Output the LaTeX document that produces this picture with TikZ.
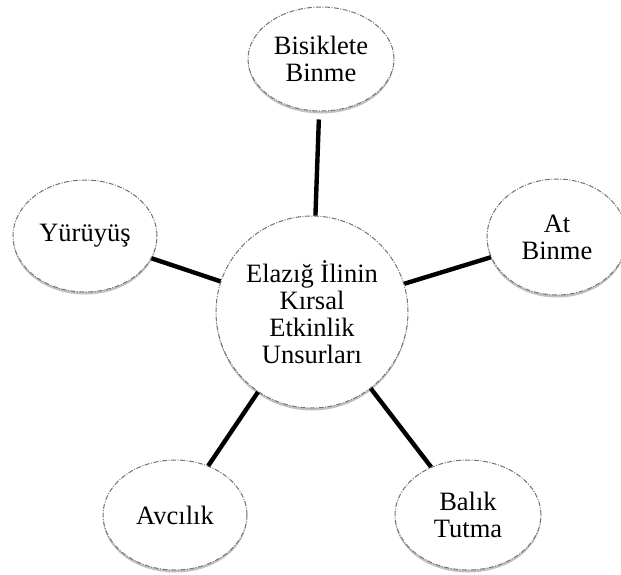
\documentclass[tikz,border=0pt]{standalone}
\usepackage{fontspec}
\setmainfont{Liberation Serif}
\usetikzlibrary{shapes.geometric,shadows}
\begin{document}
\begin{tikzpicture}[x=1pt,y=-1pt,
  bubble/.style={draw=black!55, line width=1pt,
    dash pattern=on 5pt off 1.5pt on 1pt off 1.5pt,
    fill=white, align=center, inner sep=0pt,
    font=\fontsize{26.5}{27}\selectfont,
    drop shadow={shadow xshift=0pt, shadow yshift=-2.5pt, opacity=.4, fill=black!60}},
  leaf/.style={bubble, ellipse, minimum width=144pt, minimum height=110pt},
  hub/.style={bubble, circle, minimum size=192pt},
  spoke/.style={line width=4.4pt, black}]
\useasboundingbox (0,0) rectangle (621,574);

% outer activity bubbles
\node[leaf, minimum width=146pt, minimum height=104pt] (bike) at (321,59) {Bisiklete\\Binme};
\node[leaf, minimum height=112pt] (walk) at (85,236) {Yürüyüş};
\node[leaf, minimum width=140pt, minimum height=116pt] (horse) at (557,237) {At\\Binme};
\node[leaf] (hunt) at (175,515) {Avcılık};
\node[leaf, minimum width=146pt] (fish) at (468,515) {Balık\\Tutma};

% central topic
\node[hub] (core) at (312,312) {Elazığ İlinin\\Kırsal\\Etkinlik\\Unsurları};

% spokes
\draw[spoke, shorten >=8pt] (core) -- (bike);
\draw[spoke] (core) -- (walk);
\draw[spoke] (core) -- (horse);
\draw[spoke] (core) -- (hunt);
\draw[spoke] (core) -- (fish);
\end{tikzpicture}
\end{document}
